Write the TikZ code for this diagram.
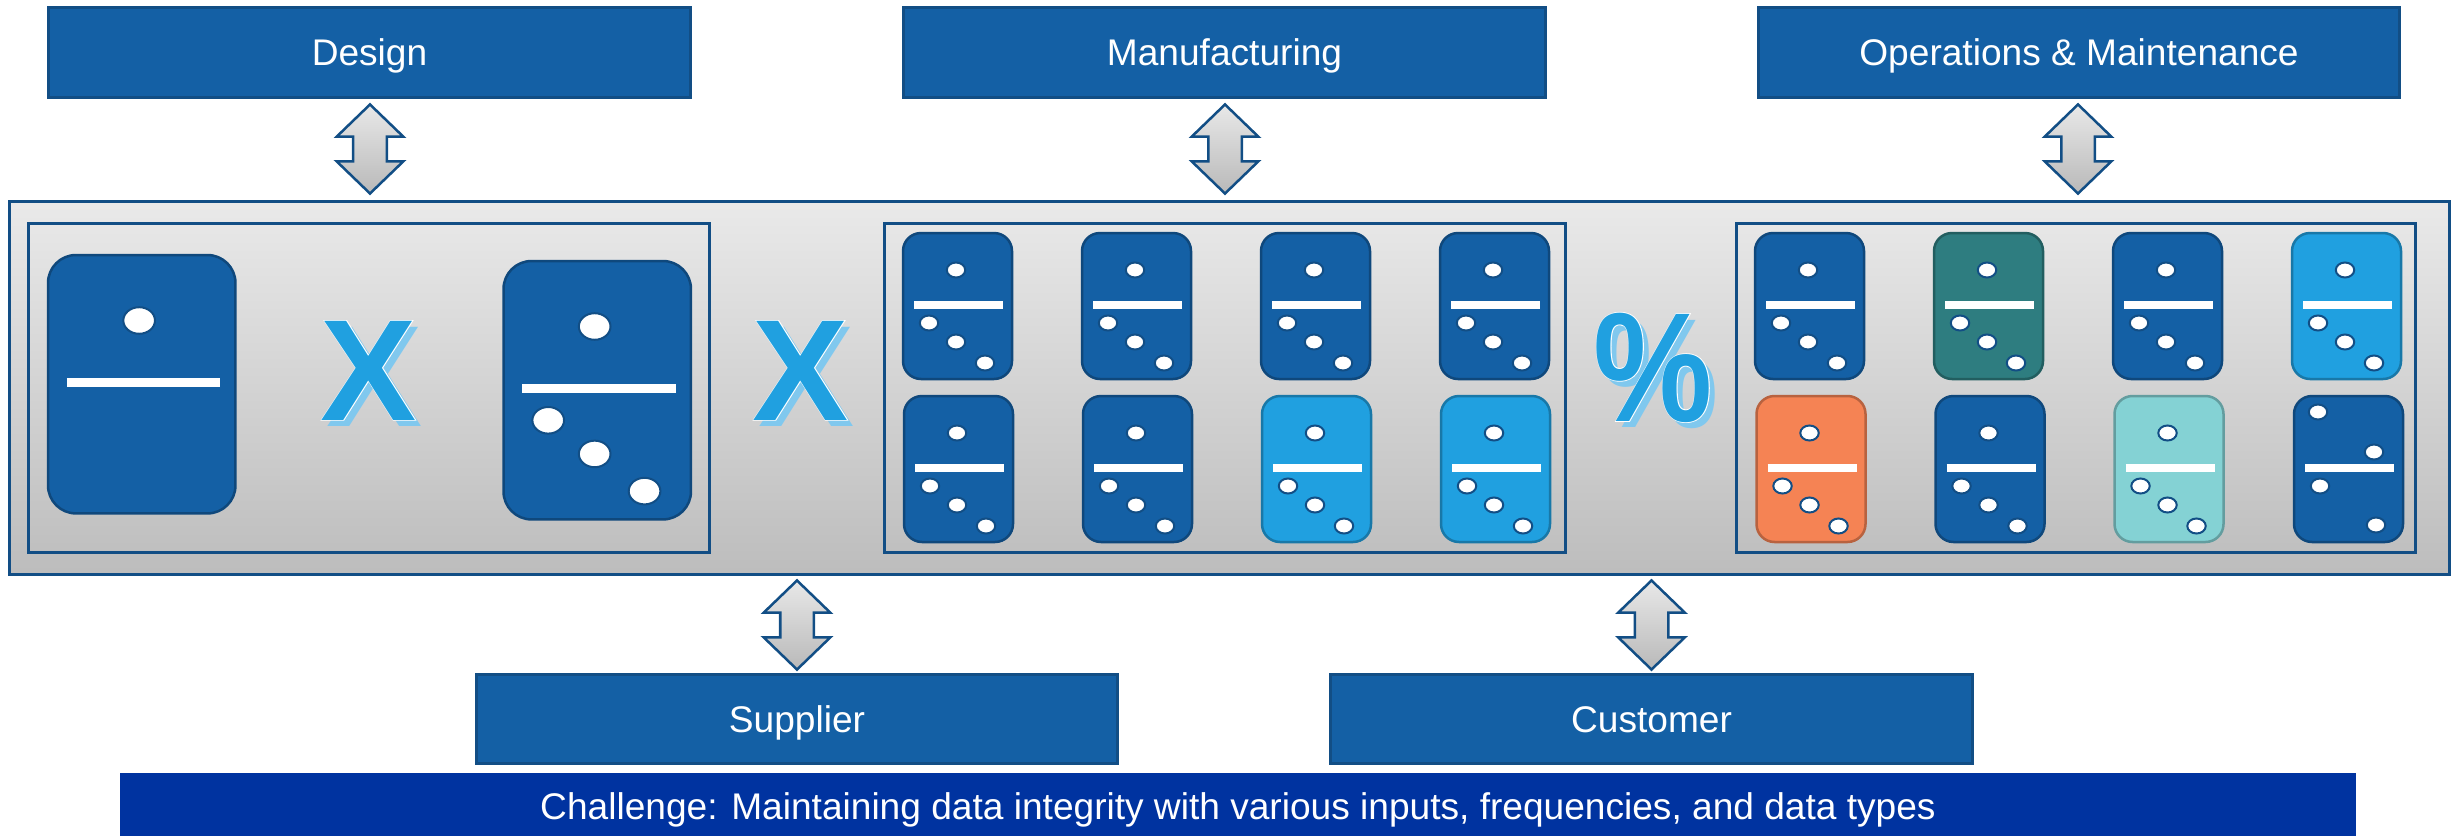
\documentclass[tikz,border=0pt]{standalone}
\usepackage{xcolor}
\usepackage{fontspec}
\usetikzlibrary{shapes.arrows}
\setmainfont{Liberation Sans}
\newfontface\markfont{Liberation Sans Bold}
\newfontface\markedgefont[FakeBold=1]{Liberation Sans Bold}

\definecolor{boxblue}{HTML}{1460A5}
\definecolor{edgeblue}{HTML}{124E85}
\definecolor{skyblue}{HTML}{20A0E0}
\definecolor{shadowblue}{HTML}{80C8EE}
\definecolor{tealdark}{HTML}{2E7D80}
\definecolor{orangefill}{HTML}{F58354}
\definecolor{tealpale}{HTML}{84D2D4}
\definecolor{bannerblue}{HTML}{0033A0}

\tikzset{
    headbox/.style={draw=edgeblue, line width=0.03cm, fill=boxblue, text=white,
                    minimum width=6.41cm, minimum height=0.89cm, inner sep=0,
                    text height=0.268cm, text depth=0pt, font=\fontsize{10.55}{12}\selectfont},
    updown/.style={shape=double arrow, shape border rotate=90, draw=edgeblue, line width=0.025cm,
                   top color=gray!18, bottom color=gray!55, inner sep=0.155cm,
                   minimum height=0.89cm, minimum width=0.64cm,
                   double arrow head extend=0.165cm, double arrow tip angle=92},
    subpanel/.style={draw=edgeblue, line width=0.03cm, minimum height=3.29cm},
    marktext/.style={anchor=base, inner sep=0, font=\markfont\fontsize{41}{41}\selectfont}
}

\def\pips{53/37, 26/90, 53/109, 82/130}

% x, y, colour
\newcommand{\domino}[4][]{
    \begin{scope}[shift={(#2,#3)}, rounded corners=0.18cm, #1]
        \draw[fill=#4, draw=#4!75!black, line width=0.025cm] (0,0) rectangle (109,146);
        \draw[white, line width=0.085cm, sharp corners] (11,72) -- (100,72);
        \foreach \px/\py in \pips
            \filldraw[fill=white, draw=edgeblue, line width=0.02cm] (\px,\py) ellipse [x radius=0.092cm, y radius=0.075cm];
    \end{scope}
}

% name, x, baseline y, glyph
\newcommand{\markglyph}[5][]{
    \node[marktext, text=shadowblue, #1] (#2shadow) at (#3+6,#4+6) {#5};
    \node[marktext, font=\markedgefont\fontsize{41}{41}\selectfont, text=white, #1] (#2edge) at (#3,#4) {#5};
    \node[marktext, text=skyblue, #1] (#2) at (#3,#4) {#5};
}

\begin{document}
\begin{tikzpicture}[x=0.01cm, y=-0.01cm]
    \useasboundingbox (0,0) rectangle (2463,836);

    \node[headbox] (design) at (369.5,52.5) {Design};
    \node[headbox] (manufacturing) at (1224.5,52.5) {Manufacturing};
    \node[headbox] (operations) at (2079,52.5) {Operations \& Maintenance};
    \node[headbox] (supplier) at (797,719) {Supplier};
    \node[headbox] (customer) at (1651.5,719) {Customer};
    \node[fill=bannerblue, text=white, minimum width=22.34cm, minimum height=0.63cm, inner sep=0,
          text height=0.29cm, text depth=0pt,
          font=\fontsize{10.55}{12}\selectfont] (challenge) at (1238,804.5)
          {Challenge: Maintaining data integrity with various inputs, frequencies, and data types};

    \node[draw=edgeblue, line width=0.03cm, top color=gray!17, bottom color=gray!52,
          minimum width=24.38cm, minimum height=3.72cm] (panel) at (1229.5,388) {};
    \node[subpanel, minimum width=6.8cm] (inputs) at (369,388) {};
    \node[subpanel, minimum width=6.8cm] (supply) at (1225,388) {};
    \node[subpanel, minimum width=6.78cm] (results) at (2076,388) {};

    \node[updown] (designarrow) at (370,149) {};
    \node[updown] (manufacturingarrow) at (1225,149) {};
    \node[updown] (operationsarrow) at (2078,149) {};
    \node[updown] (supplierarrow) at (797,625) {};
    \node[updown] (customerarrow) at (1651.5,625) {};

    \begingroup
    \def\pips{53/37}
    \domino[xscale=1.72, yscale=1.77, rounded corners=0.28cm]{48}{255}{boxblue}
    \endgroup
    \domino[xscale=1.72, yscale=1.77, rounded corners=0.28cm]{503.5}{261}{boxblue}

    \domino{903}{233}{boxblue}
    \domino{1082}{233}{boxblue}
    \domino{1261}{233}{boxblue}
    \domino{1440}{233}{boxblue}
    \domino{904}{396}{boxblue}
    \domino{1083}{396}{boxblue}
    \domino{1262}{396}{skyblue}
    \domino{1441}{396}{skyblue}

    \domino{1755}{233}{boxblue}
    \domino{1934}{233}{tealdark}
    \domino{2113}{233}{boxblue}
    \domino{2292}{233}{skyblue}
    \domino{1756.5}{396}{orangefill}
    \domino{1935.5}{396}{boxblue}
    \domino{2114.5}{396}{tealpale}
    \def\pips{24/16, 80/56, 26/90, 82/129}
    \domino{2294}{396}{boxblue}

    \markglyph{timesa}{368.5}{420}{X}
    \markglyph{timesb}{800.5}{420}{X}
    \markglyph[xscale=0.93, yscale=1.08]{percent}{1653}{421}{\%}
\end{tikzpicture}
\end{document}
